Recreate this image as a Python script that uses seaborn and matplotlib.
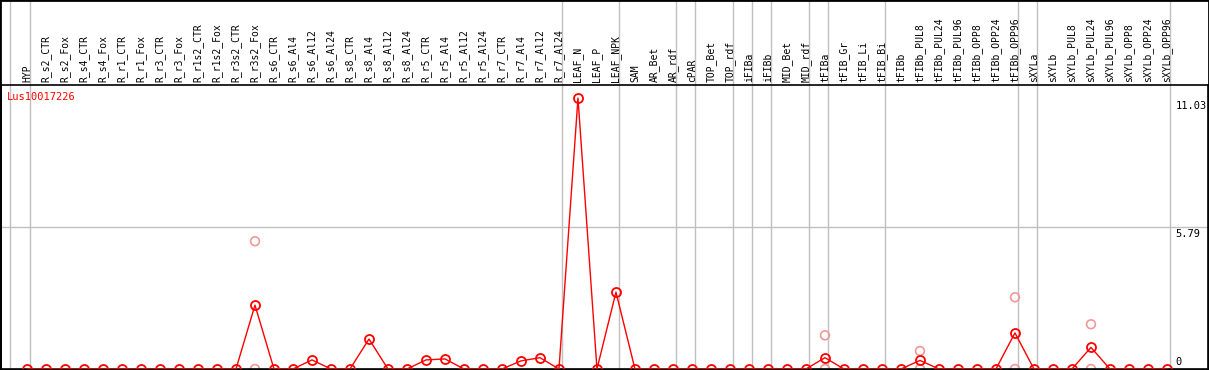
import numpy as np
import pandas as pd
import matplotlib
matplotlib.use("Agg")
import matplotlib.pyplot as plt
import seaborn as sns

# sample names (x axis, shown on top)
samples = ["HYP",
           "R_s2_CTR", "R_s2_Fox", "R_s4_CTR", "R_s4_Fox", "R_r1_CTR", "R_r1_Fox",
           "R_r3_CTR", "R_r3_Fox", "R_r1s2_CTR", "R_r1s2_Fox", "R_r3s2_CTR", "R_r3s2_Fox",
           "R_s6_CTR", "R_s6_Al4", "R_s6_Al12", "R_s6_Al24", "R_s8_CTR", "R_s8_Al4",
           "R_s8_Al12", "R_s8_Al24", "R_r5_CTR", "R_r5_Al4", "R_r5_Al12", "R_r5_Al24",
           "R_r7_CTR", "R_r7_Al4", "R_r7_Al12", "R_r7_Al24",
           "LEAF_N", "LEAF_P", "LEAF_NPK", "SAM", "AR_Bet", "AR_rdf", "cPAR",
           "TOP_Bet", "TOP_rdf", "iFIBa", "iFIBb", "MID_Bet", "MID_rdf",
           "tFIBa", "tFIB_Gr", "tFIB_Li", "tFIB_Bi", "tFIBb",
           "tFIBb_PUL8", "tFIBb_PUL24", "tFIBb_PUL96", "tFIBb_OPP8", "tFIBb_OPP24", "tFIBb_OPP96",
           "sXYLa", "sXYLb",
           "sXYLb_PUL8", "sXYLb_PUL24", "sXYLb_PUL96", "sXYLb_OPP8", "sXYLb_OPP24", "sXYLb_OPP96"]

# mean expression per sample
mean_vals = [0, 0, 0, 0, 0, 0, 0, 0, 0, 0, 0, 0, 2.60,
             0, 0, 0.37, 0, 0, 1.22, 0, 0, 0.37, 0.41, 0, 0,
             0, 0.33, 0.46, 0,
             11.03, 0, 3.13, 0, 0, 0, 0,
             0, 0, 0, 0, 0, 0,
             0.46, 0, 0, 0, 0,
             0.35, 0, 0, 0, 0, 1.47,
             0, 0,
             0, 0.88, 0, 0, 0, 0]

# individual replicates that show up as light circles
rep_idx = [12, 12, 42, 42, 47, 47, 52, 52, 56, 56]
rep_vals = [5.20, 0, 1.37, 0, 0.73, 0, 2.92, 0, 1.82, 0]

# group separators (after these sample positions)
sep_after = [0, 28, 31, 34, 35, 37, 38, 39, 41, 42, 45, 52, 53, 60]

gene = "Lus10017226"
ymax_label = 11.03
ymid_label = 5.79

df = pd.DataFrame({"pos": np.arange(len(samples)), "value": mean_vals})
reps = pd.DataFrame({"pos": rep_idx, "value": rep_vals})

sns.set_style("white")
plt.rcParams["font.family"] = ["DejaVu Sans Mono", "DejaVu Sans"]
plt.rcParams["text.color"] = "black"
plt.rcParams["xtick.color"] = "black"

fig = plt.figure(figsize=(12.09, 3.70), dpi=100)
ax = fig.add_axes([1 / 1209, 1 / 370, 1207 / 1209, 284 / 370])

ax.set_xlim(-1.368, 62.16)
ax.set_ylim(0, 11.56)

# grid lines
ax.axhline(ymid_label, color="#c0c0c0", lw=1, zorder=0)
for s in sep_after:
    ax.axvline(s + 0.18, ymin=0, ymax=1.4, color="#c0c0c0", lw=1, clip_on=False, zorder=0)
ax.axvline(-0.89, ymin=0, ymax=1.4, color="#c0c0c0", lw=1, clip_on=False, zorder=0)

sns.scatterplot(data=reps, x="pos", y="value", ax=ax, marker="o", s=40,
                facecolor="none", edgecolor="#f09898", linewidth=1.2, clip_on=False, zorder=2)
sns.lineplot(data=df, x="pos", y="value", ax=ax, color="#ff0000", lw=1,
             marker="o", markersize=6.5, markerfacecolor="none",
             markeredgecolor="#ff0000", markeredgewidth=1.3, clip_on=False, zorder=3)

ax.xaxis.tick_top()
ax.set_xticks(range(len(samples)))
ax.set_xticklabels(samples, rotation=90, fontsize=7, va="bottom", ha="center", color="black")
ax.tick_params(axis="x", length=0, pad=2, labelcolor="black")
ax.set_yticks([])
ax.set_xlabel("")
ax.set_ylabel("")

for sp in ax.spines.values():
    sp.set_color("black")
    sp.set_linewidth(1.2)

ax.text(0.005, 0.975, gene, transform=ax.transAxes, color="#ff0000",
        fontsize=7.5, ha="left", va="top")
ax.text(60.45, ymax_label - 0.12, f"{ymax_label:.2f}", fontsize=7.5, ha="left", va="top", color="black")
ax.text(60.45, ymid_label - 0.1, f"{ymid_label:.2f}", fontsize=7.5, ha="left", va="top", color="black")
ax.text(60.45, 0.1, "0", fontsize=7.5, ha="left", va="bottom", color="black")

# outer frame of the whole figure
fig.patches.append(plt.Rectangle((0, 0), 1, 1, transform=fig.transFigure,
                                 fill=False, edgecolor="black", lw=2))

fig.savefig("out.png", dpi=100)
